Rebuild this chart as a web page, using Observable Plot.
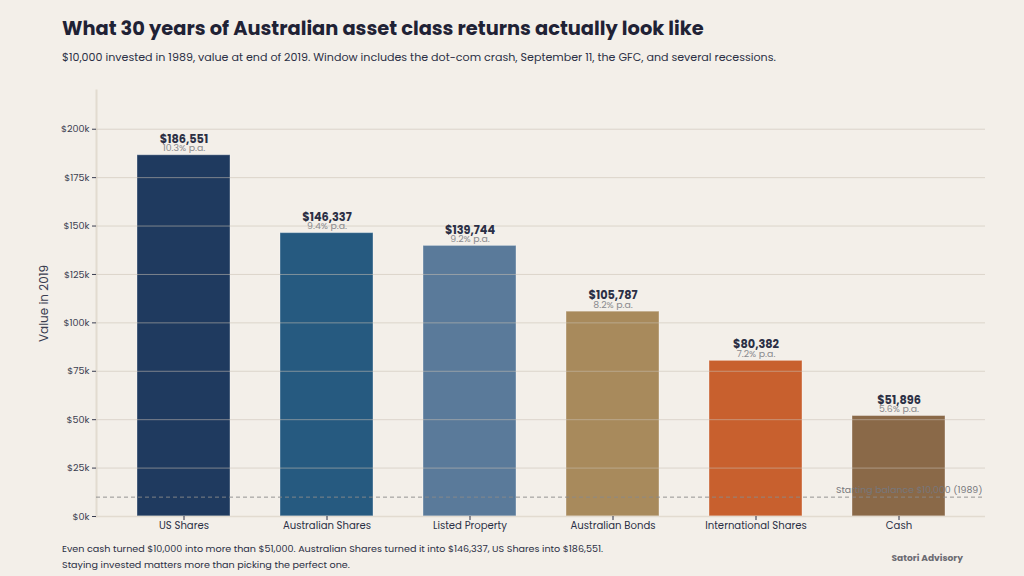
<!DOCTYPE html>
<html>
<head>
<meta charset="utf-8">
<script src="https://cdn.jsdelivr.net/npm/d3@7"></script>
<script src="https://cdn.jsdelivr.net/npm/@observablehq/plot@0.6"></script>
<style>
  html, body { margin: 0; padding: 0; background: #f3efe9; }
  body { width: 1024px; height: 576px; position: relative; overflow: hidden;
         font-family: Poppins, Inter, "Open Sans", sans-serif; color: #262a40; }
  #title { position: absolute; left: 62px; top: 14px; font-size: 19.4px; font-weight: 700; color: #1f2235; }
  #subtitle { position: absolute; left: 62px; top: 49px; font-size: 11.1px; color: #2b2f45; }
  #chart { position: absolute; left: 0; top: 80px; }
  #caption { position: absolute; left: 62px; top: 541px; font-size: 9.6px; line-height: 16px; color: #2b2f45; }
  #brand { position: absolute; right: 61px; top: 551px; font-size: 9.1px; font-weight: 700; color: #6b6b72; }
</style>
</head>
<body>
<div id="title">What 30 years of Australian asset class returns actually look like</div>
<div id="subtitle">$10,000 invested in 1989, value at end of 2019. Window includes the dot-com crash, September 11, the GFC, and several recessions.</div>
<div id="chart"></div>
<div id="caption">Even cash turned $10,000 into more than $51,000. Australian Shares turned it into $146,337, US Shares into $186,551.<br>Staying invested matters more than picking the perfect one.</div>
<div id="brand">Satori Advisory</div>
<script>
// Asset classes, value of $10,000 at end of 2019, and annualised return
const categories = ["US Shares", "Australian Shares", "Listed Property", "Australian Bonds", "International Shares", "Cash"];
const values = [186551, 146337, 139744, 105787, 80382, 51896];
const rates = ["10.3%", "9.4%", "9.2%", "8.2%", "7.2%", "5.6%"];
const colors = ["#1f3a5f", "#265a80", "#5a7a9a", "#a88a5c", "#c8602e", "#8a6948"];
const yTicks = [0, 25000, 50000, 75000, 100000, 125000, 150000, 175000, 200000];
const startingBalance = 10000;

const data = categories.map((c, i) => ({ category: c, value: values[i], rate: rates[i], color: colors[i] }));
const money = d3.format(",");

const chart = Plot.plot({
  width: 1024,
  height: 460,
  marginLeft: 96,
  marginRight: 39,
  marginTop: 10,
  marginBottom: 24,
  style: { background: "transparent", color: "#3a3d50", fontFamily: "Poppins, Inter, 'Open Sans', sans-serif" },
  x: { domain: categories, paddingInner: 0.35, paddingOuter: 0.283 },
  y: { domain: [0, 220000] },
  marks: [
    Plot.frame({ anchor: "left", stroke: "#e2dbd0", strokeWidth: 2 }),
    Plot.barY(data, { x: "category", y: "value", fill: "color", stroke: "#ffffff", strokeOpacity: 0.35, strokeWidth: 1 }),
    Plot.ruleY(yTicks, { stroke: "#c9c0b3", strokeOpacity: 0.55, strokeWidth: 1 }),
    Plot.ruleY([0], { stroke: "#e2dbd0", strokeWidth: 1.5 }),
    Plot.ruleY([startingBalance], { stroke: "#8a8a8a", strokeWidth: 0.9, strokeDasharray: "4,3" }),
    Plot.text([startingBalance], { y: d => d, frameAnchor: "right", textAnchor: "end", dx: -3, dy: -7,
      text: d => `Starting balance $${money(d)} (1989)`, fill: "#77777c", fontSize: 9.4 }),
    Plot.text(data, { x: "category", y: "value", text: d => "$" + money(d.value), dy: -16,
      fontSize: 11.3, fontWeight: 700, fill: "#2b2f45" }),
    Plot.text(data, { x: "category", y: "value", text: d => `${d.rate} p.a.`, dy: -7,
      fontSize: 9.4, fill: "#8a8a8e" }),
    Plot.axisY({ ticks: yTicks, tickFormat: d => `$${d / 1000}k`, tickSize: 4, tickPadding: 3, fontSize: 9.6, label: null }),
    Plot.axisX({ tickSize: 4, tickPadding: 1, fontSize: 10.1, label: null, color: "#2b2f45" }),
    Plot.text(["Value in 2019"], { frameAnchor: "left", textAnchor: "middle", dx: -52, rotate: -90, fontSize: 12, fill: "#3a3d50" })
  ]
});
document.getElementById("chart").appendChild(chart);
</script>
</body>
</html>
